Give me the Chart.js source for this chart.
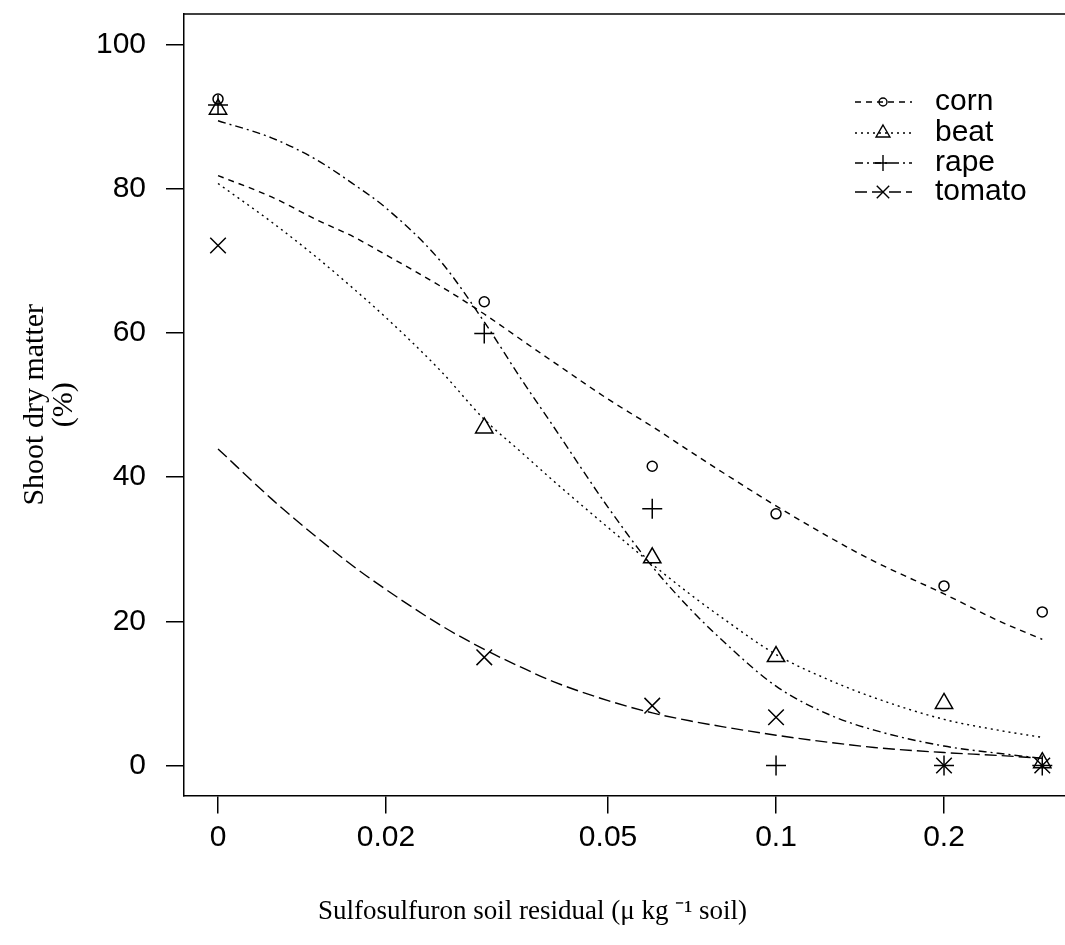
<!DOCTYPE html>
<html>
<head>
<meta charset="utf-8">
<script src="https://cdn.jsdelivr.net/npm/chart.js@4"></script>
<style>
  body { margin: 0; background: #fff; }
  #wrap { width: 1065px; height: 945px; }
</style>
</head>
<body>
<div id="wrap"><canvas id="chart"></canvas></div>
<script>
// Dose levels; 0 is drawn where 0.01 sits on the log axis (as in the original plot)
const doses = [0, 0.03, 0.06, 0.1, 0.2, 0.3];
const ZERO_AT = 0.01;

// observed shoot dry matter (%)
const cornPts   = [92.4, 64.3, 41.5, 34.9, 24.9, 21.3];
const beatPts   = [91.0, 46.8, 28.8, 15.1, 8.6, 0.4];
const rapePts   = [91.6, 59.9, 35.6, 0, 0, 0];
const tomatoPts = [72.1, 15.0, 8.3, 6.7, 0, 0];

// fitted curves, read along the log axis
const curveX      = [0.01, 0.0125, 0.015, 0.0175, 0.02, 0.025, 0.03, 0.035, 0.04, 0.05, 0.06, 0.07, 0.08, 0.1, 0.125, 0.15, 0.2, 0.25, 0.3];
const cornCurve   = [81.8, 78.8, 75.7, 73.3, 70.8, 66.5, 62.6, 59.0, 55.9, 50.8, 47.0, 43.6, 40.7, 36.0, 31.6, 28.3, 23.8, 20.1, 17.5];
const beatCurve   = [80.7, 75.3, 70.5, 66.1, 62.1, 54.8, 48.0, 43.4, 39.4, 33.0, 27.9, 23.8, 20.5, 15.4, 11.8, 9.4, 6.4, 4.9, 3.9];
const rapeCurve   = [89.4, 87.0, 84.0, 80.6, 77.3, 70.0, 61.5, 53.5, 46.9, 35.8, 27.6, 21.8, 17.4, 11.0, 7.0, 4.9, 2.7, 1.7, 1.0];
const tomatoCurve = [43.9, 36.9, 31.7, 27.6, 24.4, 19.5, 16.1, 13.6, 11.6, 9.0, 7.3, 6.2, 5.4, 4.2, 3.2, 2.5, 1.8, 1.4, 1.0];

const xTicks = [0.01, 0.02, 0.05, 0.1, 0.2];
const yTicks = [0, 20, 40, 60, 80, 100];

const series = [
  { name: 'corn',   pts: cornPts,   curve: cornCurve,   marker: 'circle',   r: 5,  dash: [6, 5] },
  { name: 'beat',   pts: beatPts,   curve: beatCurve,   marker: 'triangle', r: 10, dash: [2, 4] },
  { name: 'rape',   pts: rapePts,   curve: rapeCurve,   marker: 'cross',    r: 10, dash: [8, 4, 2, 4] },
  { name: 'tomato', pts: tomatoPts, curve: tomatoCurve, marker: 'crossRot', r: 11, dash: [12, 5] }
];

const px = d => d === 0 ? ZERO_AT : d;

const datasets = [];
series.forEach(s => {
  datasets.push({
    label: s.name + ' fit',
    data: curveX.map((x, i) => ({ x: x, y: s.curve[i] })),
    showLine: true,
    borderColor: '#000',
    borderWidth: 1.4,
    borderDash: s.dash,
    pointRadius: 0,
    cubicInterpolationMode: 'monotone',
    fill: false
  });
  datasets.push({
    label: s.name,
    data: doses.map((d, i) => ({ x: px(d), y: s.pts[i] })),
    showLine: false,
    pointStyle: s.marker,
    pointRadius: s.r,
    pointBorderColor: '#000',
    pointBackgroundColor: 'rgba(0,0,0,0)',
    pointBorderWidth: 1.5
  });
});

// box round the plot (top side) and the R-style legend
const framePlugin = {
  id: 'frame',
  afterDraw(chart) {
    const { ctx, chartArea: a } = chart;
    ctx.save();
    ctx.strokeStyle = '#000';
    ctx.lineWidth = 1.5;
    ctx.beginPath();
    ctx.moveTo(a.left, a.top);
    ctx.lineTo(a.right + 2, a.top);
    ctx.stroke();

    const legY = [102, 133, 163, 192];
    series.forEach((s, i) => {
      const y = legY[i];
      ctx.setLineDash(s.dash);
      ctx.lineWidth = 1.4;
      ctx.beginPath();
      ctx.moveTo(855, y);
      ctx.lineTo(912, y);
      ctx.stroke();
      ctx.setLineDash([]);
      ctx.fillStyle = 'rgba(0,0,0,0)';
      Chart.helpers.drawPoint(ctx, { pointStyle: s.marker, radius: s.r * 0.8, borderWidth: 1.5 }, 883, y);
      ctx.fillStyle = '#000';
      ctx.font = '30px "Liberation Sans", Arial, sans-serif';
      ctx.textAlign = 'left';
      ctx.textBaseline = 'middle';
      ctx.fillText(s.name, 935, y);
    });
    ctx.restore();
  }
};

new Chart(document.getElementById('chart'), {
  type: 'scatter',
  data: { datasets: datasets },
  plugins: [framePlugin],
  options: {
    responsive: true,
    maintainAspectRatio: false,
    animation: false,
    layout: { autoPadding: false, padding: { top: 14, right: 0, left: 0, bottom: 0 } },
    plugins: {
      legend: { display: false },
      tooltip: { enabled: false },
      title: {
        display: true,
        position: 'bottom',
        text: 'Sulfosulfuron soil residual (\u03bc kg \u207b\u00b9 soil)',
        color: '#000',
        font: { family: '"Liberation Serif", "Times New Roman", serif', size: 27, weight: 'normal' },
        padding: { top: 0, bottom: 17 }
      }
    },
    scales: {
      x: {
        type: 'logarithmic',
        min: 0.00869,
        max: 0.3295,
        afterBuildTicks: scale => { scale.ticks = xTicks.map(v => ({ value: v })); },
        afterFit: scale => {
          scale.height = 100;
          scale.paddingLeft = 0;
          scale.paddingRight = 0;
        },
        ticks: {
          callback: v => v === ZERO_AT ? '0' : String(v),
          color: '#000',
          padding: 6,
          maxRotation: 0,
          font: { family: '"Liberation Sans", Arial, sans-serif', size: 30 }
        },
        grid: { drawOnChartArea: false, tickLength: 18, color: '#000', lineWidth: 1.5 },
        border: { color: '#000', width: 1.5 }
      },
      y: {
        min: -4.17,
        max: 104.2,
        afterBuildTicks: scale => { scale.ticks = yTicks.map(v => ({ value: v })); },
        afterFit: scale => {
          scale.width = 184;
          scale.paddingTop = 0;
          scale.paddingBottom = 0;
        },
        ticks: {
          color: '#000',
          padding: 20,
          font: { family: '"Liberation Sans", Arial, sans-serif', size: 30 }
        },
        grid: { drawOnChartArea: false, tickLength: 18, color: '#000', lineWidth: 1.5 },
        border: { color: '#000', width: 1.5 },
        title: {
          display: true,
          text: ['Shoot dry matter', '(%)'],
          color: '#000',
          font: { family: '"Liberation Serif", "Times New Roman", serif', size: 30, lineHeight: 0.95 },
          padding: { top: 21, bottom: 0 }
        }
      }
    }
  }
});
</script>
</body>
</html>
